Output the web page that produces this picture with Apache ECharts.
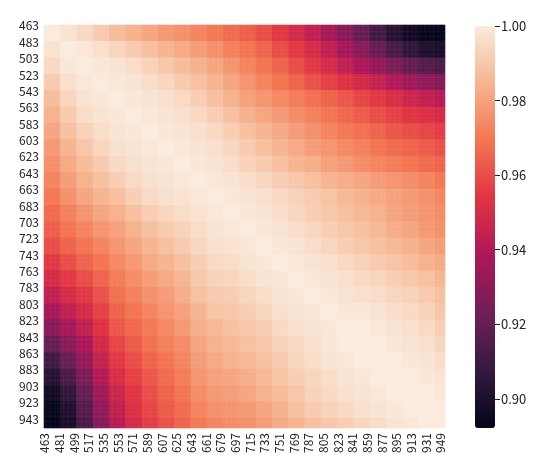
<!DOCTYPE html>
<html>
<head>
<meta charset="utf-8">
<script src="https://cdn.jsdelivr.net/npm/echarts@6/dist/echarts.min.js"></script>
<style>
  html, body { margin: 0; padding: 0; background: #fff; }
  #chart { width: 550px; height: 476px; }
</style>
</head>
<body>
<div id="chart"></div>
<script>
// wavelength axis (nm), drawn on a 2 nm category grid
const wlStart = 463
const wlEnd = 953
const wlStep = 2

// start of each 20 nm block that a value below was read for
const binStarts = [463, 483, 503, 523, 543, 563, 583, 603, 623, 643, 663, 683, 703,
  723, 743, 763, 783, 803, 823, 843, 863, 883, 903, 923, 943]

// correlation, upper triangle: row k holds blocks k..24
const corrUpper = [
  [1.000, .998, .995, .991, .987, .984, .981, .978, .976, .973, .970, .967, .964, .960, .955, .950, .944, .937, .929, .920, .911, .903, .897, .894, .893],
  [1.000, .999, .997, .994, .991, .988, .985, .982, .979, .976, .972, .969, .965, .960, .955, .950, .944, .937, .929, .921, .913, .906, .901, .899],
  [1.000, .999, .998, .996, .993, .990, .987, .984, .981, .977, .973, .969, .965, .960, .955, .950, .944, .938, .932, .926, .920, .916, .913],
  [1.000, .999, .998, .996, .994, .991, .988, .985, .981, .977, .973, .969, .965, .961, .957, .953, .949, .945, .940, .935, .931, .928],
  [1.000, .999, .998, .997, .995, .992, .988, .984, .980, .977, .974, .971, .968, .965, .962, .958, .955, .951, .947, .944, .941],
  [1.000, .999, .998, .997, .995, .992, .988, .984, .981, .978, .975, .972, .969, .966, .963, .960, .957, .954, .952, .950],
  [1.000, .999, .998, .997, .995, .992, .988, .985, .982, .979, .976, .973, .970, .968, .965, .962, .960, .958, .956],
  [1.000, .999, .998, .997, .994, .991, .988, .985, .982, .979, .977, .974, .972, .969, .967, .965, .963, .961],
  [1.000, .999, .998, .996, .993, .991, .988, .985, .983, .980, .978, .975, .973, .971, .969, .967, .965],
  [1.000, .999, .998, .996, .994, .992, .990, .988, .985, .983, .981, .979, .977, .975, .973, .970],
  [1.000, .999, .998, .997, .995, .993, .991, .989, .986, .984, .982, .980, .978, .976, .973],
  [1.000, .999, .998, .996, .994, .992, .990, .988, .986, .984, .981, .979, .977, .975],
  [1.000, .999, .998, .996, .994, .992, .990, .988, .986, .983, .981, .978, .976],
  [1.000, .999, .998, .996, .994, .992, .990, .988, .986, .984, .981, .979],
  [1.000, .999, .998, .997, .995, .993, .991, .989, .987, .984, .982],
  [1.000, .999, .998, .997, .995, .994, .992, .990, .988, .985],
  [1.000, .999, .998, .997, .996, .994, .993, .991, .988],
  [1.000, .999, .999, .998, .996, .995, .993, .990],
  [1.000, 1.000, .999, .998, .997, .995, .992],
  [1.000, 1.000, .999, .998, .997, .994],
  [1.000, 1.000, .999, .998, .996],
  [1.000, 1.000, .999, .998],
  [1.000, 1.000, .999],
  [1.000, 1.000],
  [1.000]
]

// tick labels shown on each axis
const xTickLabels = [463, 481, 499, 517, 535, 553, 571, 589, 607, 625, 643, 661, 679,
  697, 715, 733, 751, 769, 787, 805, 823, 841, 859, 877, 895, 913, 931, 949]
const yTickLabels = [463, 483, 503, 523, 543, 563, 583, 603, 623, 643, 663, 683, 703,
  723, 743, 763, 783, 803, 823, 843, 863, 883, 903, 923, 943]

// colour bar
const cbarMin = 0.8922
const cbarMax = 1.0
const cbarTicks = [0.90, 0.92, 0.94, 0.96, 0.98, 1.00]
const rocket = ['#03051a', '#35193e', '#701f57', '#ad1759', '#e13342', '#f37651', '#f6b48f', '#faebdd']

const wavelengths = []
for (let w = wlStart; w <= wlEnd; w += wlStep) wavelengths.push(w)

function binOf(w) {
  let k = 0
  while (k + 1 < binStarts.length && binStarts[k + 1] <= w) k++
  return k
}

const cells = []
wavelengths.forEach((wy, yi) => {
  const by = binOf(wy)
  wavelengths.forEach((wx, xi) => {
    const bx = binOf(wx)
    const a = Math.min(bx, by)
    const b = Math.max(bx, by)
    cells.push([xi, yi, corrUpper[a][b - a]])
  })
})

const xSet = new Set(xTickLabels)
const ySet = new Set(yTickLabels)
const labelFont = '"Noto Sans CJK SC", "Liberation Sans", sans-serif'

const chart = echarts.init(document.getElementById('chart'), null, { renderer: 'canvas' })
chart.setOption({
  animation: false,
  backgroundColor: '#fff',
  textStyle: { fontFamily: labelFont },
  grid: [
    { left: 44, top: 25, width: 401, height: 403 },
    { left: 475, top: 26, width: 20, height: 402 }
  ],
  xAxis: [
    {
      type: 'category',
      data: wavelengths.map(String),
      gridIndex: 0,
      axisLine: { show: false },
      axisTick: {
        alignWithLabel: true,
        length: 5,
        interval: (i, v) => xSet.has(+v),
        lineStyle: { color: '#222' }
      },
      axisLabel: {
        rotate: 90,
        margin: 5,
        fontSize: 12,
        color: '#222',
        interval: (i, v) => xSet.has(+v)
      },
      splitLine: { show: false }
    },
    { type: 'category', gridIndex: 1, show: false, data: ['c'] }
  ],
  yAxis: [
    {
      type: 'category',
      data: wavelengths.map(String),
      gridIndex: 0,
      inverse: true,
      axisLine: { show: false },
      axisTick: {
        alignWithLabel: true,
        length: 5,
        interval: (i, v) => ySet.has(+v),
        lineStyle: { color: '#222' }
      },
      axisLabel: {
        margin: 5,
        fontSize: 12,
        color: '#222',
        interval: (i, v) => ySet.has(+v)
      },
      splitLine: { show: false }
    },
    {
      type: 'value',
      gridIndex: 1,
      position: 'right',
      min: cbarMin,
      max: cbarMax,
      axisLine: { show: false },
      splitLine: { show: false },
      axisTick: { show: true, length: 5, customValues: cbarTicks, lineStyle: { color: '#222' } },
      axisLabel: {
        customValues: cbarTicks,
        margin: 6,
        fontSize: 13,
        color: '#222',
        formatter: v => v.toFixed(2)
      }
    }
  ],
  visualMap: {
    type: 'continuous',
    seriesIndex: 0,
    min: cbarMin,
    max: cbarMax,
    calculable: false,
    hoverLink: false,
    left: 475,
    top: 26,
    padding: 0,
    itemWidth: 20,
    itemHeight: 402,
    text: null,
    inRange: { color: rocket }
  },
  series: [{
    type: 'heatmap',
    xAxisIndex: 0,
    yAxisIndex: 0,
    data: cells,
    progressive: 0,
    emphasis: { disabled: true },
    itemStyle: { borderWidth: 0 }
  }]
})
</script>
</body>
</html>
